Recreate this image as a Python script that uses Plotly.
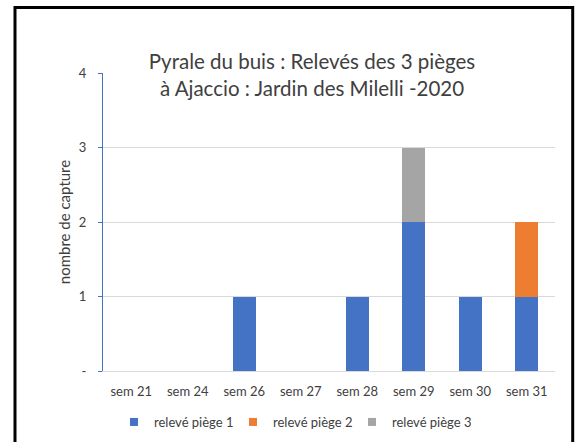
import plotly.graph_objects as go

categories = ["sem 21", "sem 24", "sem 26", "sem 27", "sem 28", "sem 29", "sem 30", "sem 31"]
piege1 = [0, 0, 1, 0, 1, 2, 1, 1]
piege2 = [0, 0, 0, 0, 0, 0, 0, 1]
piege3 = [0, 0, 0, 0, 0, 1, 0, 0]
series_names = ["relevé piège 1", "relevé piège 2", "relevé piège 3"]
colors = ["#4472C4", "#ED7D31", "#A5A5A5"]
ytick_vals = [0, 1, 2, 3, 4]
ytick_text = ["-", "1", "2", "3", "4"]

W, H = 577, 442
L, R, T, B = 103, 22, 73, 71
pw, ph = W - L - R, H - T - B

def px_x(p):
    return (p - L) / pw

def px_y(p):
    return (H - B - p) / ph

FONT = "Lato"
TXT = "#404040"

fig = go.Figure()
for name, vals, col in zip(series_names, [piege1, piege2, piege3], colors):
    fig.add_trace(go.Bar(x=categories, y=vals, name=name, marker_color=col,
                         marker_line_width=0, showlegend=False))
for name, col in zip(series_names, colors):
    fig.add_trace(go.Scatter(x=[None], y=[None], mode="markers", name=name,
                             marker=dict(symbol="square", size=8, color=col)))

fig.update_layout(
    width=W, height=H,
    margin=dict(l=L, r=R, t=T, b=B, autoexpand=False),
    paper_bgcolor="white", plot_bgcolor="white",
    barmode="stack", bargap=0.59,
    font=dict(family=FONT, color=TXT, size=13),
    title=dict(text="Pyrale du buis : Relevés des 3 pièges<br>à Ajaccio : Jardin des Milelli -2020",
               x=312 / W, xanchor="center", xref="container",
               y=1 - 69 / H, yanchor="middle", yref="container",
               font=dict(family=FONT, size=20.5, color=TXT)),
    xaxis=dict(type="category", showgrid=False, showline=True, linecolor="#D9D9D9",
               linewidth=1, ticks="", tickfont=dict(size=13, color=TXT),
               ticklabelstandoff=8, range=[-0.5, 7.5], automargin=False),
    yaxis=dict(range=[0, 4], tickvals=ytick_vals, ticktext=ytick_text,
               showgrid=True, gridcolor="#D9D9D9", gridwidth=1,
               showline=True, linecolor="#4472C4", linewidth=1,
               ticks="outside", ticklen=4, tickcolor="#4472C4",
               tickfont=dict(size=13, color=TXT), ticklabelstandoff=9,
               zeroline=False, automargin=False,
               title=dict(text="nombre de capture", font=dict(size=15, color=TXT), standoff=4)),
    legend=dict(orientation="h", x=px_x(114), xanchor="left", y=px_y(422), yanchor="middle",
                traceorder="normal",
                font=dict(size=13, color=TXT), entrywidth=74, entrywidthmode="pixels",
                bgcolor="rgba(0,0,0,0)"),
    shapes=[dict(type="rect", xref="paper", yref="paper",
                 x0=px_x(15), x1=px_x(572.7), y0=px_y(7.5), y1=px_y(470),
                 line=dict(color="black", width=3), fillcolor="rgba(0,0,0,0)", layer="below")],
)

fig.write_html("out.html", config={"displayModeBar": False},
               post_script="document.body.style.margin='0';")
